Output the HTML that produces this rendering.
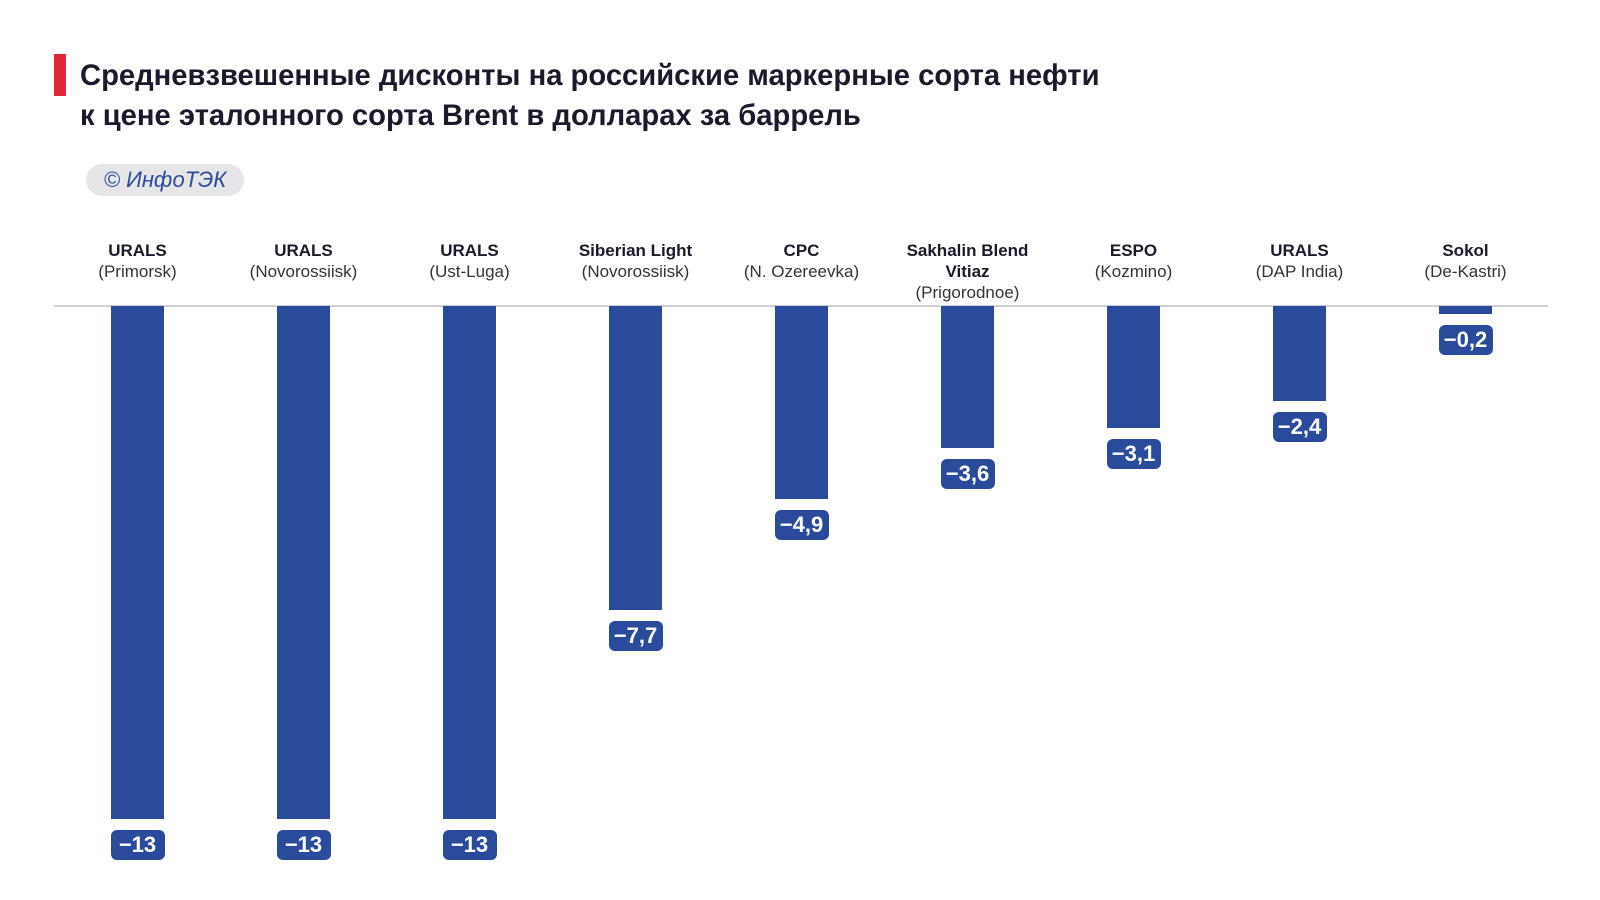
<!DOCTYPE html>
<html><head><meta charset="utf-8"><style>
body{margin:0;width:1600px;height:900px;background:#fff;font-family:"Liberation Sans","DejaVu Sans",sans-serif;position:relative;overflow:hidden}
.t{position:absolute;left:80px;font-weight:bold;font-size:29.2px;color:#1a1a2a;white-space:nowrap}
.red{position:absolute;left:54px;top:54px;width:12px;height:42px;background:#e0283a}
.badge{position:absolute;left:86px;top:164px;width:158px;height:32px;border-radius:16px;background:#e6e6e8;color:#2a4b9b;font-style:italic;font-size:22px;line-height:32px;text-align:center}
.axis{position:absolute;left:54px;top:305px;width:1494px;height:2px;background:#cfcfd4}
.bar{position:absolute;top:306px;width:53px;background:#2a4b9b}
.lab{position:absolute;width:54px;height:30px;border-radius:6px;background:#2a4b9b;color:#fff;font-weight:bold;font-size:22px;line-height:30px;text-align:center}
.cat{position:absolute;top:240px;width:170px;text-align:center;font-size:17px;line-height:21px;color:#333}
.cat b{color:#1a1a2a}
</style></head><body>
<div class="red"></div>
<div class="t" style="top:60px">Средневзвешенные дисконты на российские маркерные сорта нефти</div>
<div class="t" style="top:100px">к цене эталонного сорта Brent в долларах за баррель</div>
<div class="badge">© ИнфоТЭК</div>
<div class="axis"></div>
<div class="cat" style="left:52.5px"><b>URALS</b><br>(Primorsk)</div>
<div class="cat" style="left:218.5px"><b>URALS</b><br>(Novorossiisk)</div>
<div class="cat" style="left:384.5px"><b>URALS</b><br>(Ust-Luga)</div>
<div class="cat" style="left:550.5px"><b>Siberian Light</b><br>(Novorossiisk)</div>
<div class="cat" style="left:716.5px"><b>CPC</b><br>(N. Ozereevka)</div>
<div class="cat" style="left:882.5px"><b>Sakhalin Blend<br>Vitiaz</b><br>(Prigorodnoe)</div>
<div class="cat" style="left:1048.5px"><b>ESPO</b><br>(Kozmino)</div>
<div class="cat" style="left:1214.5px"><b>URALS</b><br>(DAP India)</div>
<div class="cat" style="left:1380.5px"><b>Sokol</b><br>(De-Kastri)</div>

<div class="bar" style="left:111px;height:513px"></div><div class="lab" style="left:110.5px;top:830px">−13</div>
<div class="bar" style="left:277px;height:513px"></div><div class="lab" style="left:276.5px;top:830px">−13</div>
<div class="bar" style="left:443px;height:513px"></div><div class="lab" style="left:442.5px;top:830px">−13</div>
<div class="bar" style="left:609px;height:304px"></div><div class="lab" style="left:608.5px;top:621px">−7,7</div>
<div class="bar" style="left:775px;height:193px"></div><div class="lab" style="left:774.5px;top:510px">−4,9</div>
<div class="bar" style="left:941px;height:142px"></div><div class="lab" style="left:940.5px;top:459px">−3,6</div>
<div class="bar" style="left:1107px;height:122px"></div><div class="lab" style="left:1106.5px;top:439px">−3,1</div>
<div class="bar" style="left:1273px;height:95px"></div><div class="lab" style="left:1272.5px;top:412px">−2,4</div>
<div class="bar" style="left:1439px;height:8px"></div><div class="lab" style="left:1438.5px;top:325px">−0,2</div>
</body></html>
